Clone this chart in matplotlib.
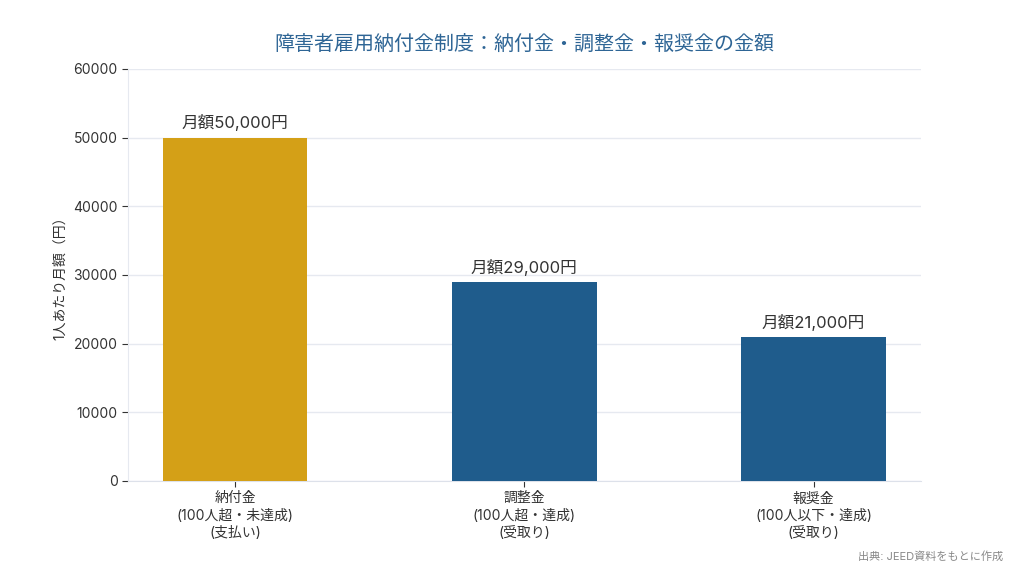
import matplotlib
matplotlib.use("Agg")
import matplotlib.pyplot as plt

plt.rcParams['font.family'] = ['Inter', 'Noto Sans CJK JP', 'DejaVu Sans']

# データ
categories = ["納付金\n(100人超・未達成)\n(支払い)",
              "調整金\n(100人超・達成)\n(受取り)",
              "報奨金\n(100人以下・達成)\n(受取り)"]
values = [50000, 29000, 21000]
labels = ["月額50,000円", "月額29,000円", "月額21,000円"]
colors = ["#D4A017", "#1F5C8C", "#1F5C8C"]
yticks = [0, 10000, 20000, 30000, 40000, 50000, 60000]

fig = plt.figure(figsize=(10.24, 5.73), dpi=100)
ax = fig.add_axes([0.125, 0.1606, 0.774, 0.719])

x = list(range(len(categories)))
ax.bar(x, values, width=0.5, color=colors, zorder=3)

for i in x:
	ax.text(i, values[i] + 900, labels[i], ha='center', va='bottom', fontsize=12, color='#333333')

ax.set_xlim(-0.37, 2.37)
ax.set_ylim(0, 60000)
ax.set_yticks(yticks)
ax.set_xticks(x)
ax.set_xticklabels(categories, fontsize=10, color='#333333', linespacing=1.3)
ax.tick_params(axis='y', labelsize=10, labelcolor='#333333', color='#333333', length=4)
ax.tick_params(axis='x', color='#333333', length=4)

ax.grid(axis='y', color='#e6e9f0', linewidth=1, zorder=0)
for s in ['top', 'right']:
	ax.spines[s].set_visible(False)
ax.spines['left'].set_color('#e6e9f0')
ax.spines['bottom'].set_color('#dde1ea')

ax.set_ylabel("1人あたり月額（円）", fontsize=10, color='#333333')
ax.set_title("障害者雇用納付金制度：納付金・調整金・報奨金の金額", fontsize=14.4, color='#2E6595', pad=14)

fig.text(0.98, 0.02, "出典: JEED資料をもとに作成", ha='right', va='bottom', fontsize=8, color='#888888')

fig.savefig("out.png", dpi=100)
